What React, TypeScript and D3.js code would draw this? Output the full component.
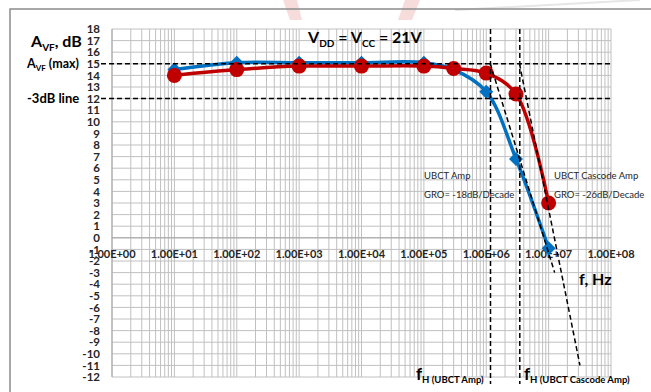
import React from 'react';
import * as d3 from 'd3';

// frequency points (Hz) and gain (dB)
const freqs = [10, 100, 1e3, 1e4, 1e5, 3e5, 1e6, 3e6, 1e7];
const ubctAmp = [14.5, 15.1, 15.1, 15.1, 15.1, 14.5, 12.6, 6.8, -0.9];
const ubctCascode = [14.0, 14.5, 14.8, 14.8, 14.8, 14.6, 14.2, 12.4, 3.0];

const yTicks = d3.range(-12, 19);
const xDecades = d3.range(0, 9).map(d => Math.pow(10, d));
const xLabels = ['1.00E+00', '1.00E+01', '1.00E+02', '1.00E+03', '1.00E+04', '1.00E+05', '1.00E+06', '1.00E+07', '1.00E+08'];

// reference lines
const avfMax = 15;
const minus3dB = 12;
const fH = [1.17e6, 3.45e6];
const groAmp = [[1.16e6, 15], [1.25e7, -3]];
const groCascode = [[3.41e6, 15], [3.18e7, -11]];

const width = 651;
const height = 392;
const font = 'Lato, "Open Sans", sans-serif';

const App = () => {
    const x = d3.scaleLog().domain([1, 1e8]).range([112, 611]);
    const y = d3.scaleLinear().domain([-12, 18]).range([377, 29]);

    const minor: number[] = [];
    for (let d = 0; d < 8; d++) {
        for (let k = 2; k < 10; k++) minor.push(k * Math.pow(10, d));
    }

    const line = d3.line<[number, number]>()
        .x(d => x(d[0]))
        .y(d => y(d[1]))
        .curve(d3.curveCatmullRom.alpha(0.5));
    const straight = d3.line<number[]>().x(d => x(d[0])).y(d => y(d[1]));

    const blue = freqs.map((f, i) => [f, ubctAmp[i]] as [number, number]);
    const red = freqs.map((f, i) => [f, ubctCascode[i]] as [number, number]);

    const diamond = 'M0,-7L7,0L0,7L-7,0Z';
    const dash = '5,3';

    return (
        <svg width={width} height={height} style={{ position: 'absolute', left: 0, top: 0, background: '#fff' }}>
            {/* faint background marks above the frame */}
            <path d="M283,0 L297,0 L302,20 L290,20 Z" fill="#f7dcdc" />
            <path d="M405,0 L420,0 L412,20 L398,20 Z" fill="#f7dcdc" />
            <path d="M455,10 Q560,4 640,0" fill="none" stroke="#e6e6e6" strokeWidth={2} />

            {/* chart frame */}
            <path d={`M10,${height + 2}L10,9L${width + 2},9`} fill="none" stroke="#8c8c8c" strokeWidth={1.5} />

            {/* gridlines */}
            <g stroke="#c0c0c0" strokeWidth={1}>
                {yTicks.map(t => (
                    <line key={'h' + t} x1={x(1)} x2={x(1e8)} y1={y(t)} y2={y(t)} />
                ))}
                {minor.map(f => (
                    <line key={'m' + f} x1={x(f)} x2={x(f)} y1={y(18)} y2={y(-12)} />
                ))}
                {xDecades.map(f => (
                    <line key={'v' + f} x1={x(f)} x2={x(f)} y1={y(18)} y2={y(-12)} />
                ))}
            </g>
            <line x1={x(1)} x2={x(1e8)} y1={y(0)} y2={y(0)} stroke="#a6a6a6" strokeWidth={1} />
            <line x1={x(1)} x2={x(1)} y1={y(18)} y2={y(-12)} stroke="#a6a6a6" strokeWidth={1} />

            {/* y tick labels */}
            <g fontFamily={font} fontWeight="bold" fontSize={11.5} fill="#262626" textAnchor="end">
                {yTicks.map(t => (
                    <text key={'yl' + t} x={100} y={y(t)} dy="0.36em">{t}</text>
                ))}
            </g>
            {/* x tick labels */}
            <g fontFamily={font} fontWeight="bold" fontSize={11} fill="#262626" textAnchor="middle">
                {xDecades.map((f, i) => (
                    <text key={'xl' + f} x={x(f)} y={y(0) + 16} dy="0.36em">{xLabels[i]}</text>
                ))}
            </g>

            {/* series */}
            <path d={line(blue) || ''} fill="none" stroke="#0070c0" strokeWidth={3.5} strokeLinejoin="round" />
            {blue.map(d => (
                <path key={'bd' + d[0]} d={diamond} transform={`translate(${x(d[0])},${y(d[1])})`} fill="#0070c0" />
            ))}
            <path d={line(red) || ''} fill="none" stroke="#c00000" strokeWidth={3.5} strokeLinejoin="round" />
            {red.map(d => (
                <circle key={'rc' + d[0]} cx={x(d[0])} cy={y(d[1])} r={7.5} fill="#c00000" />
            ))}

            {/* dashed reference lines */}
            <g stroke="#000" strokeWidth={1.5} strokeDasharray={dash} fill="none">
                <line x1={101} x2={x(1e8)} y1={y(avfMax)} y2={y(avfMax)} />
                <line x1={101} x2={x(1e8)} y1={y(minus3dB)} y2={y(minus3dB)} />
                {fH.map(f => (
                    <line key={'fh' + f} x1={x(f)} x2={x(f)} y1={y(18)} y2={384} />
                ))}
                <path d={straight(groAmp) || ''} />
                <path d={straight(groCascode) || ''} />
            </g>

            {/* axis titles and annotations */}
            <g fontFamily={font} fontWeight="bold" fill="#000">
                <text x={31} y={47} fontSize={16}>A<tspan fontSize={10} dy={4}>VF</tspan><tspan dy={-4}>, dB</tspan></text>
                <text x={27} y={68} fontSize={12.5}>A<tspan fontSize={8} dy={3}>VF</tspan><tspan dy={-3}> (max)</tspan></text>
                <text x={27} y={103} fontSize={13}>-3dB line</text>
                <text x={308} y={43} fontSize={16}>V<tspan fontSize={10} dy={4}>DD</tspan><tspan dy={-4}> = V</tspan><tspan fontSize={10} dy={4}>CC</tspan><tspan dy={-4}> = 21V</tspan></text>
                <text x={579} y={285} fontSize={16}>f, Hz</text>
                <text x={416} y={380} fontSize={17}>f<tspan fontSize={9.5} dy={3}>H (UBCT Amp)</tspan></text>
                <text x={524} y={380} fontSize={17}>f<tspan fontSize={9.5} dy={3}>H (UBCT Cascode Amp)</tspan></text>
            </g>
            <g fontFamily={font} fontSize={9.5} fill="#262626">
                <text x={424} y={179}>UBCT Amp</text>
                <text x={424} y={198}>GRO= -18dB/Decade</text>
                <text x={554} y={179}>UBCT Cascode Amp</text>
                <text x={554} y={198}>GRO= -26dB/Decade</text>
            </g>
        </svg>
    );
};

export default App;
